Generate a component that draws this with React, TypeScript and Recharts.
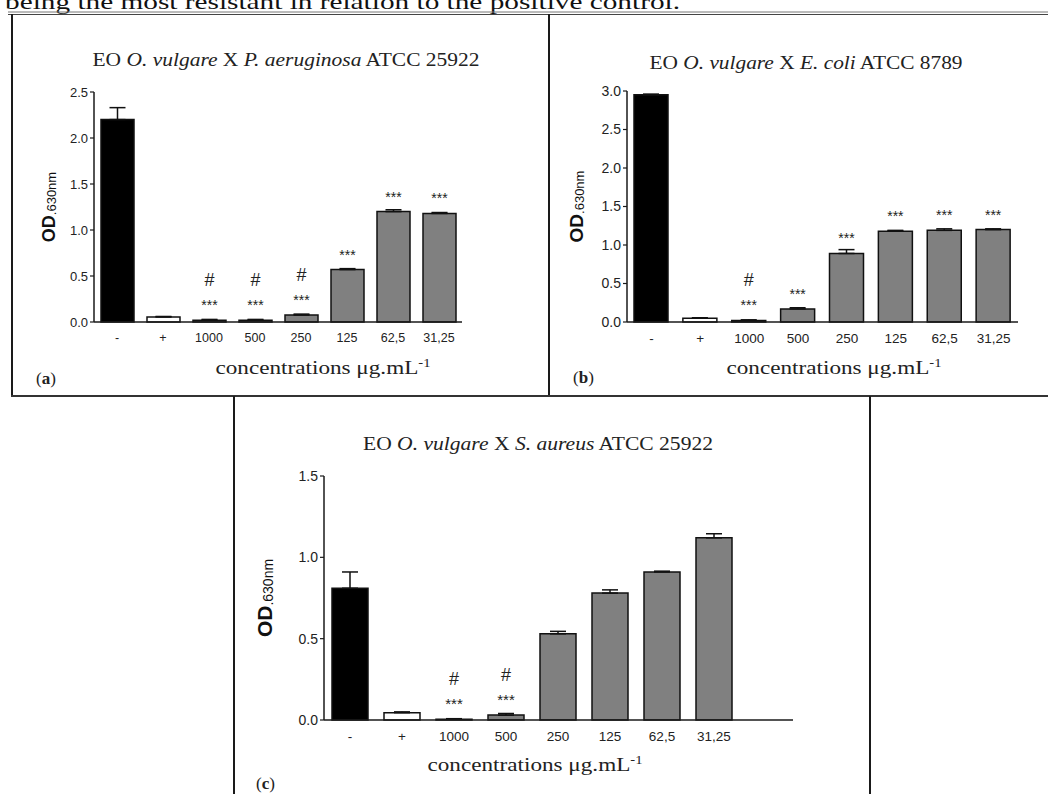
import React from "react";
import { BarChart, Bar, XAxis, YAxis, ErrorBar, LabelList, Label, Cell } from "recharts";

const categories = ["-", "+", "1000", "500", "250", "125", "62,5", "31,25"];

// (a) P. aeruginosa
const odA = [2.2, 0.055, 0.02, 0.02, 0.076, 0.57, 1.2, 1.18];
const errA = [0.13, 0.005, 0.008, 0.008, 0.01, 0.01, 0.02, 0.01];
const starsA = ["", "", "***", "***", "***", "***", "***", "***"];
const hashA = ["", "", "#", "#", "#", "", "", ""];
const ticksA = [0, 0.5, 1, 1.5, 2, 2.5];

// (b) E. coli
const odB = [2.95, 0.05, 0.02, 0.17, 0.89, 1.18, 1.19, 1.2];
const errB = [0.01, 0.005, 0.008, 0.015, 0.05, 0.01, 0.02, 0.01];
const starsB = ["", "", "***", "***", "***", "***", "***", "***"];
const hashB = ["", "", "#", "", "", "", "", ""];
const ticksB = [0, 0.5, 1, 1.5, 2, 2.5, 3];

// (c) S. aureus
const odC = [0.81, 0.045, 0.005, 0.03, 0.53, 0.78, 0.91, 1.12];
const errC = [0.1, 0.005, 0.003, 0.01, 0.015, 0.02, 0.005, 0.025];
const starsC = ["", "", "***", "***", "", "", "", ""];
const hashC = ["", "", "#", "#", "", "", "", ""];
const ticksC = [0, 0.5, 1, 1.5];

const SANS = "'Liberation Sans', Arial, sans-serif";
const SERIF = "'Liberation Serif', 'DejaVu Serif', serif";
const INK = "#1a1a1a";

const makeRows = (od: number[], err: number[], stars: string[], hash: string[]) =>
  categories.map((c, i) => ({ conc: c, od: od[i], err: [0, err[i]], stars: stars[i], hash: hash[i] }));

const barFill = (i: number) => (i === 0 ? "#000" : i === 1 ? "#fff" : "#808080");

const markContent = (offset: number, size: number) => (props: any) => {
  const { x, y, width, value } = props;
  if (!value) return null;
  return (
    <text x={x + width / 2} y={y - offset} textAnchor="middle" fontSize={size} fontFamily={SANS} fill="#222">
      {value}
    </text>
  );
};

const odLabel = (offset: number, big: number, small: number) => (props: any) => {
  const vb = props.viewBox;
  const cx = vb.x + vb.width - offset;
  const cy = vb.y + vb.height / 2;
  return (
    <text x={cx} y={cy} transform={`rotate(-90, ${cx}, ${cy})`} textAnchor="middle" fontFamily={SANS} fill="#111">
      <tspan fontWeight="bold" fontSize={big}>OD</tspan>
      <tspan fontSize={small} dy={1}>.630nm</tspan>
    </text>
  );
};

function Panel(p: any) {
  return (
    <div style={{ position: "absolute", left: p.left, top: p.top }}>
      <BarChart width={p.width} height={p.height} data={p.rows} margin={p.margin} barSize={p.barSize}>
        <XAxis
          dataKey="conc"
          interval={0}
          height={30}
          tickLine={false}
          tickMargin={5}
          padding={{ left: 0, right: p.padRight || 0 }}
          axisLine={{ stroke: INK, strokeWidth: 1.5 }}
          tick={{ fontSize: p.xFont, fill: "#222", fontFamily: SANS }}
        />
        <YAxis
          domain={[0, p.yMax]}
          ticks={p.ticks}
          interval={0}
          width={p.yWidth}
          tickSize={4}
          tickMargin={2}
          tickFormatter={(v: number) => v.toFixed(1)}
          axisLine={{ stroke: INK, strokeWidth: 1.5 }}
          tickLine={{ stroke: INK, strokeWidth: 1.2 }}
          tick={{ fontSize: p.yFont, fill: "#222", fontFamily: SANS }}
        >
          <Label content={odLabel(p.odOffset, p.odBig, p.odSmall)} />
        </YAxis>
        <Bar dataKey="od" isAnimationActive={false} stroke="#111" strokeWidth={1.5}>
          {p.rows.map((_: any, i: number) => (
            <Cell key={i} fill={barFill(i)} />
          ))}
          <ErrorBar dataKey="err" direction="y" width={8} stroke="#111" strokeWidth={1.5} isAnimationActive={false} />
          <LabelList dataKey="stars" content={markContent(10, p.starFont)} />
          <LabelList dataKey="hash" content={markContent(34, 18)} />
        </Bar>
      </BarChart>
    </div>
  );
}

function Title({ x, y, len, species }: { x: number; y: number; len: number; species: [string, string]; }) {
  return (
    <text x={x} y={y} textAnchor="middle" fontFamily={SERIF} fontSize={19} fill="#222" textLength={len} lengthAdjust="spacingAndGlyphs">
      EO <tspan fontStyle="italic">O. vulgare</tspan> X <tspan fontStyle="italic">{species[0]}</tspan> {species[1]}
    </text>
  );
}

function AxisTitle({ x, y }: { x: number; y: number }) {
  return (
    <text x={x} y={y} textAnchor="middle" fontFamily={SERIF} fontSize={19} fill="#222" textLength={215} lengthAdjust="spacingAndGlyphs">
      concentrations μg.mL<tspan fontSize={12} dy={-7}>-1</tspan>
    </text>
  );
}

function PanelTag({ x, y, tag }: { x: number; y: number; tag: string }) {
  return (
    <text x={x} y={y} fontFamily={SERIF} fontSize={17} fill="#222">
      (<tspan fontWeight="bold">{tag}</tspan>)
    </text>
  );
}

export default function App() {
  const rowsA = makeRows(odA, errA, starsA, hashA);
  const rowsB = makeRows(odB, errB, starsB, hashB);
  const rowsC = makeRows(odC, errC, starsC, hashC);
  return (
    <div style={{ position: "absolute", left: 0, top: 0, width: 1048, height: 794, background: "#fff", overflow: "hidden" }}>
      <Panel
        rows={rowsA} ticks={ticksA} yMax={2.5}
        left={0} top={80} width={480} height={272}
        margin={{ top: 12, right: 18, bottom: 0, left: 60 }}
        yWidth={34} barSize={33} xFont={12.5} yFont={13} starFont={14}
        odOffset={39} odBig={18} odSmall={13}
      />
      <Panel
        rows={rowsB} ticks={ticksB} yMax={3}
        left={540} top={80} width={498} height={272}
        margin={{ top: 11, right: 20, bottom: 0, left: 53 }}
        yWidth={34} barSize={34} xFont={13.5} yFont={14} starFont={14}
        odOffset={44} odBig={19} odSmall={13}
      />
      <Panel
        rows={rowsC} ticks={ticksC} yMax={1.5}
        left={234} top={460} width={579} height={290}
        margin={{ top: 16, right: 20, bottom: 0, left: 50 }}
        yWidth={40} barSize={36} xFont={13.5} yFont={14} starFont={15} padRight={53}
        odOffset={52} odBig={21} odSmall={14}
      />
      <svg width={1048} height={794} style={{ position: "absolute", left: 0, top: 0, pointerEvents: "none" }}>
        <text x={5} y={9} fontFamily={SERIF} fontSize={22} fill="#111" textLength={675} lengthAdjust="spacingAndGlyphs">
          being the most resistant in relation to the positive control.
        </text>
        <line x1={8} y1={12} x2={1048} y2={12} stroke="#777" strokeWidth={1} />
        <line x1={8} y1={14.5} x2={1048} y2={14.5} stroke="#444" strokeWidth={1.2} />
        <line x1={12} y1={14} x2={12} y2={396} stroke={INK} strokeWidth={2} />
        <line x1={549} y1={14} x2={549} y2={396} stroke={INK} strokeWidth={2} />
        <line x1={11} y1={396} x2={1048} y2={396} stroke="#333" strokeWidth={2} />
        <line x1={234} y1={396} x2={234} y2={794} stroke={INK} strokeWidth={2} />
        <line x1={870} y1={396} x2={870} y2={794} stroke={INK} strokeWidth={2} />

        <Title x={286} y={66} len={387} species={["P. aeruginosa", "ATCC 25922"]} />
        <Title x={806} y={69} len={313} species={["E. coli", "ATCC 8789"]} />
        <Title x={538} y={450} len={350} species={["S. aureus", "ATCC 25922"]} />

        <AxisTitle x={323} y={374} />
        <AxisTitle x={834} y={374} />
        <AxisTitle x={535} y={771} />

        <PanelTag x={36} y={384} tag="a" />
        <PanelTag x={573} y={383} tag="b" />
        <PanelTag x={256} y={789} tag="c" />
      </svg>
    </div>
  );
}
